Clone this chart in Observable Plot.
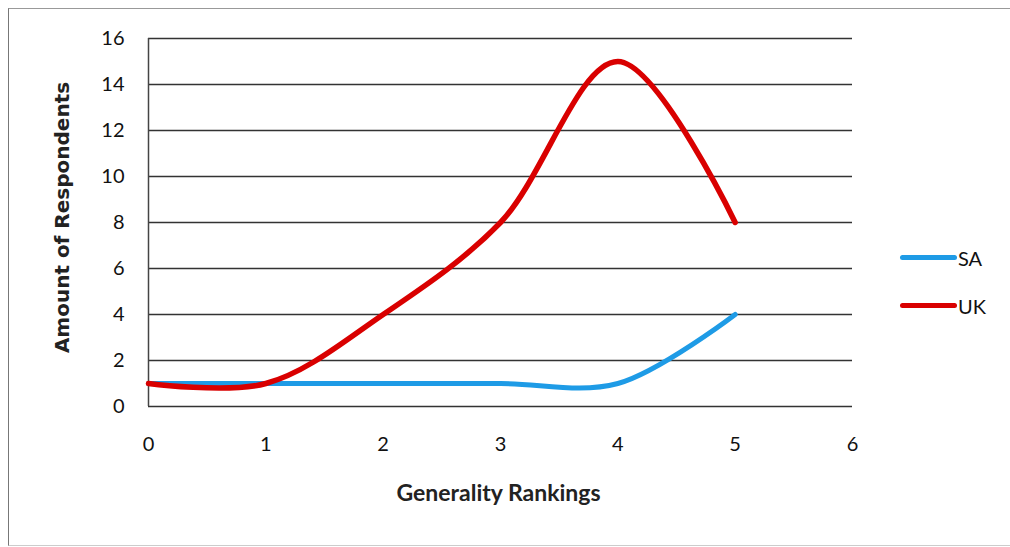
<!DOCTYPE html>
<html>
<head>
<meta charset="utf-8">
<script src="https://cdn.jsdelivr.net/npm/d3@7"></script>
<script src="https://cdn.jsdelivr.net/npm/@observablehq/plot@0.6"></script>
<style>
  html, body { margin: 0; padding: 0; background: #fff; }
  #wrap { position: relative; width: 1010px; height: 547px; overflow: hidden; }
  #frame { position: absolute; left: 8px; top: 8px; width: 1010px; height: 536px;
           border-left: 1.5px solid #777; border-top: 1.5px solid #999; border-bottom: 1px solid #ccc; }
  #legend { position: absolute; left: 900px; top: 245px; font-family: Lato, "Liberation Sans", sans-serif;
            font-size: 20px; color: #111; }
  .item { display: flex; align-items: center; height: 25px; margin-bottom: 23px; }
  .sw { width: 57px; height: 5px; border-radius: 3px; margin-right: 1px; }
</style>
</head>
<body>
<div id="wrap">
  <div id="frame"></div>
  <div id="chart"></div>
  <div id="legend"></div>
</div>
<script>
const rankings = [0, 1, 2, 3, 4, 5];
const saValues = [1, 1, 1, 1, 1, 4];
const ukValues = [1, 1, 4, 8, 15, 8];
const seriesNames = ["SA", "UK"];
const seriesColors = ["#1e9be6", "#d90000"];
const xTicks = [0, 1, 2, 3, 4, 5, 6];
const yTicks = [0, 2, 4, 6, 8, 10, 12, 14, 16];

const sa = rankings.map((r, i) => ({rank: r, value: saValues[i], series: "SA"}));
const uk = rankings.map((r, i) => ({rank: r, value: ukValues[i], series: "UK"}));

const tickFont = "Lato, 'Liberation Sans', sans-serif";

const chart = Plot.plot({
  width: 1010,
  height: 547,
  marginLeft: 148,
  marginRight: 158,
  marginTop: 38,
  marginBottom: 141,
  style: {fontFamily: tickFont, fontSize: "20px", color: "#111", background: "transparent"},
  x: {domain: [0, 6], ticks: xTicks},
  y: {domain: [0, 16], ticks: yTicks},
  marks: [
    Plot.ruleY(yTicks, {stroke: "#333", strokeWidth: 1.7}),
    Plot.ruleX([0], {stroke: "#444", strokeWidth: 1.5}),
    Plot.line(sa, {x: "rank", y: "value", stroke: seriesColors[0], strokeWidth: 5, curve: "catmull-rom"}),
    Plot.line(uk, {x: "rank", y: "value", stroke: seriesColors[1], strokeWidth: 5.5, curve: "catmull-rom"}),
    Plot.axisX(xTicks, {tickSize: 0, tickPadding: 30, label: null, fontSize: 20, tickFormat: d3.format("d")}),
    Plot.axisY(yTicks, {tickSize: 0, tickPadding: 24, label: null, fontSize: 20, tickFormat: d3.format("d")}),
    Plot.text(["Amount of Respondents"], {frameAnchor: "left", dx: -86, dy: -5, rotate: -90, textAnchor: "middle",
      fontFamily: "'DejaVu Sans', Verdana, sans-serif", fontWeight: "bold", fontSize: 20, fill: "#222"}),
    Plot.text(["Generality Rankings"], {frameAnchor: "bottom", dy: 94, dx: -2,
      fontFamily: tickFont, fontWeight: "bold", fontSize: 23, fill: "#222"})
  ]
});
document.getElementById("chart").appendChild(chart);

const legend = document.getElementById("legend");
seriesNames.forEach((n, i) => {
  const d = document.createElement("div");
  d.className = "item";
  d.innerHTML = `<span class="sw" style="background:${seriesColors[i]}"></span><span>${n}</span>`;
  legend.appendChild(d);
});
</script>
</body>
</html>
